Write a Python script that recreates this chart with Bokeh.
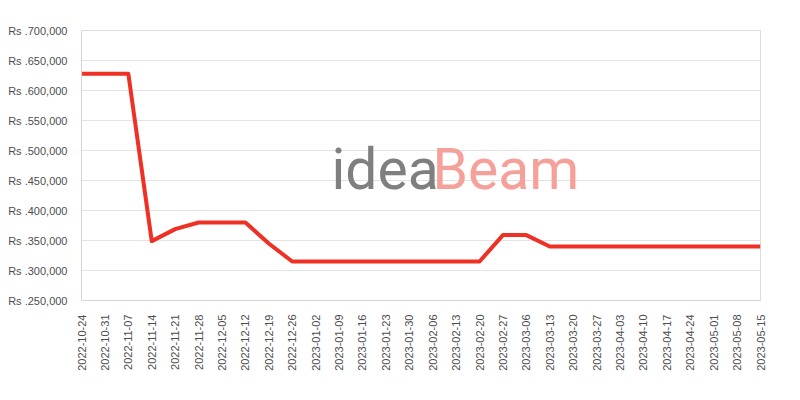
import datetime as dt
from bokeh.plotting import figure
from bokeh.models import FixedTicker, DatetimeTickFormatter, Range1d, Label
from bokeh.embed import file_html
from bokeh.resources import INLINE

# --- data ---
dates = ["2022-10-24", "2022-10-31", "2022-11-07", "2022-11-14", "2022-11-21", "2022-11-28",
         "2022-12-05", "2022-12-12", "2022-12-19", "2022-12-26", "2023-01-02", "2023-01-09",
         "2023-01-16", "2023-01-23", "2023-01-30", "2023-02-06", "2023-02-13", "2023-02-20",
         "2023-02-27", "2023-03-06", "2023-03-13", "2023-03-20", "2023-03-27", "2023-04-03",
         "2023-04-10", "2023-04-17", "2023-04-24", "2023-05-01", "2023-05-08", "2023-05-15"]
prices = [628000, 628000, 628000, 349000, 369000, 380000,
          380000, 380000, 345000, 315000, 315000, 315000,
          315000, 315000, 315000, 315000, 315000, 315000,
          359000, 359000, 340000, 340000, 340000, 340000,
          340000, 340000, 340000, 340000, 340000, 340000]
y_ticks = [250000, 300000, 350000, 400000, 450000, 500000, 550000, 600000, 650000, 700000]
y_labels = ["Rs .250,000", "Rs .300,000", "Rs .350,000", "Rs .400,000", "Rs .450,000",
            "Rs .500,000", "Rs .550,000", "Rs .600,000", "Rs .650,000", "Rs .700,000"]

xs = [dt.datetime.strptime(d, "%Y-%m-%d") for d in dates]
x_ms = [(x - dt.datetime(1970, 1, 1)).total_seconds() * 1000 for x in xs]

p = figure(width=784, height=384, x_axis_type="datetime", output_backend="svg",
           toolbar_location=None, tools="",
           x_range=Range1d(x_ms[0], x_ms[-1]), y_range=Range1d(y_ticks[0], y_ticks[-1]),
           min_border_left=81, min_border_right=24, min_border_top=30, min_border_bottom=84)

p.line(xs, prices, line_color="#ee3124", line_width=4, line_join="round")

font = "Liberation Sans"
p.xaxis.ticker = FixedTicker(ticks=x_ms)
p.xaxis.formatter = DatetimeTickFormatter(days="%Y-%m-%d", months="%Y-%m-%d", years="%Y-%m-%d")
p.xaxis.major_label_orientation = 3.14159265 / 2
p.yaxis.ticker = FixedTicker(ticks=y_ticks)
p.yaxis.major_label_overrides = {t: l for t, l in zip(y_ticks, y_labels)}
for ax in (p.xaxis, p.yaxis):
    ax.major_label_text_font = font
    ax.major_label_text_font_size = "11px"
    ax.major_label_text_color = "#4d4d4d"
    ax.axis_line_color = "#d6d6d6"
    ax.major_tick_line_color = None
    ax.minor_tick_line_color = None
    ax.major_label_standoff = 8

p.xgrid.grid_line_color = None
p.ygrid.grid_line_color = "#e3e3e3"
p.outline_line_color = "#dcdcdc"
p.background_fill_color = "white"

# watermark
p.add_layout(Label(x=250, y=131, x_units="screen", y_units="screen", text="idea",
                   text_font="Roboto", text_font_size="57px", text_color="#7f7f7f",
                   text_baseline="alphabetic", level="underlay"))
p.add_layout(Label(x=351, y=131, x_units="screen", y_units="screen", text="Beam",
                   text_font="Roboto", text_font_size="57px", text_color="#f5a19a",
                   text_baseline="alphabetic", level="underlay"))

open("out.html", "w").write(file_html(p, INLINE))
